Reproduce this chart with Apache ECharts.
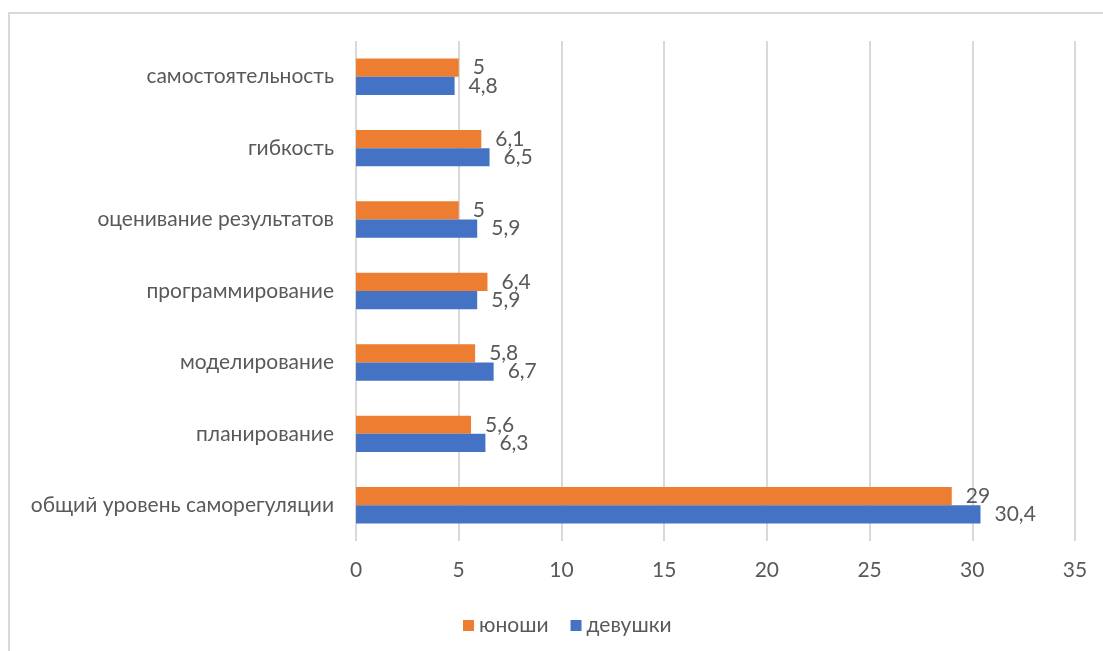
<!DOCTYPE html>
<html>
<head>
<meta charset="utf-8">
<script src="https://cdn.jsdelivr.net/npm/echarts@6/dist/echarts.min.js"></script>
<style>
  html, body { margin: 0; padding: 0; background: #fff; }
  #chart { width: 1103px; height: 651px; }
</style>
</head>
<body>
<div id="chart"></div>
<script>
// Scales of self-regulation, listed bottom to top as drawn on the category axis
const categories = [
  'общий уровень саморегуляции',
  'планирование',
  'моделирование',
  'программирование',
  'оценивание результатов',
  'гибкость',
  'самостоятельность'
];
const boys = [29, 5.6, 5.8, 6.4, 5, 6.1, 5];
const girls = [30.4, 6.3, 6.7, 5.9, 5.9, 6.5, 4.8];
const xTicks = { min: 0, max: 35, interval: 5 };

const textColor = '#595959';
const fontFamily = 'Lato, "Open Sans", sans-serif';
const fontSize = 21;

const valueLabel = {
  show: true,
  position: 'right',
  distance: 14,
  color: textColor,
  fontSize: fontSize,
  fontFamily: fontFamily,
  formatter: p => String(p.value).replace('.', ',')
};

const chart = echarts.init(document.getElementById('chart'), null, { renderer: 'canvas' });
chart.setOption({
  animation: false,
  backgroundColor: '#ffffff',
  graphic: [{
    type: 'rect',
    silent: true,
    z: -10,
    shape: { x: 9, y: 13, width: 1200, height: 700 },
    style: { fill: 'none', stroke: '#d9d9d9', lineWidth: 2 }
  }],
  grid: { left: 356, right: 28, top: 41, bottom: 110, containLabel: false },
  legend: {
    data: ['юноши', 'девушки'],
    left: 458,
    top: 610,
    icon: 'rect',
    itemWidth: 11,
    itemHeight: 11,
    itemGap: 22,
    textStyle: { color: textColor, fontSize: fontSize, fontFamily: fontFamily }
  },
  xAxis: {
    type: 'value',
    min: xTicks.min,
    max: xTicks.max,
    interval: xTicks.interval,
    axisLine: { show: false },
    axisTick: { show: false },
    axisLabel: { color: textColor, fontSize: fontSize, fontFamily: fontFamily, margin: 19 },
    splitLine: { show: true, lineStyle: { color: '#d9d9d9', width: 2 } }
  },
  yAxis: {
    type: 'category',
    data: categories,
    axisLine: { show: false },
    axisTick: { show: false },
    axisLabel: { color: textColor, fontSize: fontSize, fontFamily: fontFamily, margin: 22 }
  },
  series: [
    {
      name: 'юноши',
      type: 'bar',
      data: boys,
      itemStyle: { color: '#ED7D31' },
      barGap: '0%',
      barCategoryGap: '49%',
      label: valueLabel
    },
    {
      name: 'девушки',
      type: 'bar',
      data: girls,
      itemStyle: { color: '#4472C4' },
      barGap: '0%',
      barCategoryGap: '49%',
      label: valueLabel
    }
  ]
});
</script>
</body>
</html>
